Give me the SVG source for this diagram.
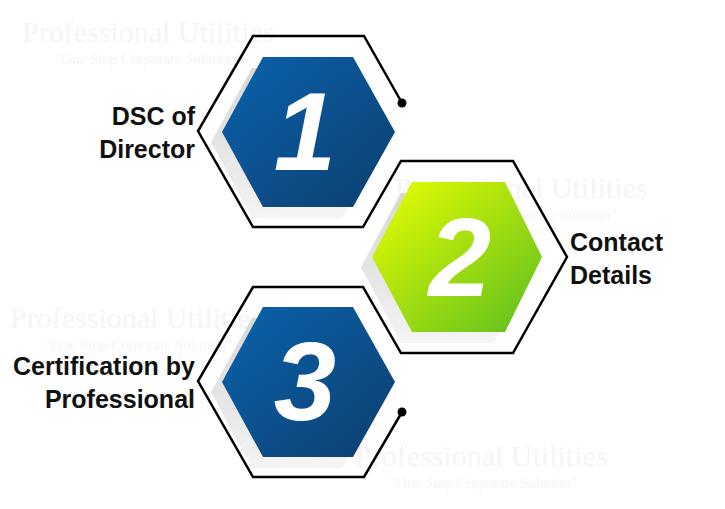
<svg xmlns="http://www.w3.org/2000/svg" width="725" height="509" viewBox="0 0 725 509">
<defs>
<linearGradient id="blue" x1="0" y1="0" x2="1" y2="1"><stop offset="0" stop-color="#0a62ae"/><stop offset="1" stop-color="#0d3f6e"/></linearGradient>
<linearGradient id="green" x1="0" y1="0" x2="1" y2="1"><stop offset="0" stop-color="#eaff00"/><stop offset="1" stop-color="#5bbd20"/></linearGradient>
<linearGradient id="shadow" x1="0" y1="0" x2="0.3" y2="1"><stop offset="0" stop-color="#d6d6d6"/><stop offset="1" stop-color="#f4f4f4"/></linearGradient>
<style>
.lbl{font-family:"Liberation Sans",Arial,sans-serif;font-weight:bold;font-size:25px;fill:#111}
.num{font-family:"Liberation Sans",sans-serif;font-weight:bold;font-style:italic;font-size:112px;fill:#fff;text-anchor:middle}
.wm{font-family:"Liberation Serif",serif;fill:#f5f5f5}
.sh{fill:url(#shadow)}
</style>
</defs>
<g class="wm">
<text x="22" y="42" font-size="30">Professional Utilities</text><text x="55" y="64" font-size="15">"One Stop Corporate Solution"</text>
<text x="395" y="198" font-size="30">Professional Utilities</text><text x="430" y="220" font-size="15">"One Stop Corporate Solution"</text>
<text x="10" y="328" font-size="30">Professional Utilities</text><text x="45" y="350" font-size="15">"One Stop Corporate Solution"</text>
<text x="355" y="466" font-size="30">Professional Utilities</text><text x="390" y="488" font-size="15">"One Stop Corporate Solution"</text>
</g>
<g id="connectors">
<path d="M402,103 L364,36 L253,36 L198,131 L253,227 L363,227 L401,161 L513,161 L567,257 L513,353 L401,353 L363,287 L253,287 L198,381 L253,477 L364,477 L402,412" fill="none" stroke="#000" stroke-width="2.5" stroke-linejoin="miter"/>
<circle cx="402" cy="103" r="4.5" fill="#000"/>
<circle cx="402" cy="412" r="4.5" fill="#000"/>
</g>
<g id="node1">
<polygon class="sh" points="252,68 342,68 384,142 342,218 252,218 211,142"/>
<polygon fill="url(#blue)" points="263,57 353,57 395,132 353,207 263,207 222,132"/>
<text class="num" x="305" y="170">1</text>
<text class="lbl" x="195" y="125" text-anchor="end">DSC of</text>
<text class="lbl" x="195" y="158" text-anchor="end">Director</text>
</g>
<g id="node2">
<polygon class="sh" points="401,193 494,193 531,267 494,343 401,343 361,267"/>
<polygon fill="url(#green)" points="412,182 505,182 542,257 505,332 412,332 372,257"/>
<text class="num" x="460" y="296">2</text>
<text class="lbl" x="570" y="251">Contact</text>
<text class="lbl" x="570" y="284">Details</text>
</g>
<g id="node3">
<polygon class="sh" points="252,318 342,318 384,392 342,468 252,468 211,392"/>
<polygon fill="url(#blue)" points="263,307 353,307 395,382 353,457 263,457 222,382"/>
<text class="num" x="305" y="420">3</text>
<text class="lbl" x="195" y="375" text-anchor="end">Certification by</text>
<text class="lbl" x="195" y="408" text-anchor="end">Professional</text>
</g>
</svg>
